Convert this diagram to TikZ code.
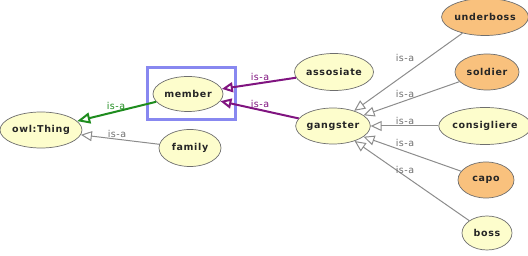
\documentclass[tikz,border=0pt]{standalone}
\usepackage{fontspec}
\usetikzlibrary{shapes.geometric,arrows.meta}
\newfontfamily\clsfont[LetterSpace=7]{DejaVu Sans}
\newfontfamily\lblfont[LetterSpace=5]{DejaVu Sans}
\definecolor{clsyellow}{RGB}{253,253,204}
\definecolor{clsorange}{RGB}{249,193,125}
\definecolor{clsborder}{RGB}{110,110,110}
\definecolor{isagray}{RGB}{140,140,140}
\definecolor{isagreen}{RGB}{30,140,30}
\definecolor{isapurple}{RGB}{128,20,128}
\definecolor{selblue}{RGB}{136,136,240}
\begin{document}
\begin{tikzpicture}[x=1pt,y=-1pt,
  cls/.style={ellipse, draw=clsborder, line width=0.7pt, inner sep=0pt,
    font=\clsfont\bfseries\fontsize{9.5}{11}\selectfont, text=black!85},
  plain/.style={cls, fill=clsyellow},
  defined/.style={cls, fill=clsorange},
  lbl/.style={font=\lblfont\fontsize{9.5}{11}\selectfont, inner sep=0pt},
  isa/.style={-{Triangle[open,length=11pt,width=10pt]}},
  isagrayline/.style={isa, draw=isagray, line width=1pt},
  isagreenline/.style={-{Triangle[open,length=13pt,width=11pt]}, draw=isagreen, line width=2pt},
  isapurpleline/.style={isa, draw=isapurple, line width=2pt},
  selbox/.style={draw=selblue, line width=3pt, inner sep=0pt}
]
\useasboundingbox (0,0) rectangle (528,256);

% classes
\node[plain, minimum width=82pt, minimum height=36pt] (thing) at (41,130) {owl:Thing};
\node[plain, minimum width=70pt, minimum height=35pt] (member) at (188,94) {member};
\node[plain, minimum width=62pt, minimum height=37pt] (family) at (190,148) {family};
\node[plain, minimum width=79pt, minimum height=37pt] (assosiate) at (334,72) {assosiate};
\node[plain, minimum width=74pt, minimum height=36pt] (gangster) at (333,126) {gangster};
\node[defined, minimum width=82pt, minimum height=37pt] (underboss) at (485,17) {underboss};
\node[defined, minimum width=64pt, minimum height=36pt] (soldier) at (487,72) {soldier};
\node[plain, minimum width=84pt, minimum height=37pt] (consigliere) at (485,126) {consigliere};
\node[defined, minimum width=56pt, minimum height=36pt] (capo) at (486,180) {capo};
\node[plain, minimum width=50pt, minimum height=34pt] (boss) at (487,233) {boss};

% selection frame
\node[selbox, minimum width=88pt, minimum height=52pt] (sel) at (191,94) {};

% subclass links
\draw[isagreenline] (member) -- (thing);
\draw[isagrayline] (family) -- (thing);
\draw[isapurpleline] (assosiate) -- (member);
\draw[isapurpleline] (gangster) -- (member);
\draw[isagrayline] (underboss) -- (gangster);
\draw[isagrayline] (soldier) -- (gangster);
\draw[isagrayline] (consigliere) -- (gangster);
\draw[isagrayline] (capo) -- (gangster);
\draw[isagrayline] (boss) -- (gangster);

% link labels
\node[lbl, text=isagreen] (l1) at (116,106) {is-a};
\node[lbl, text=isagray!80!black] (l2) at (117,134) {is-a};
\node[lbl, text=isapurple] (l3) at (260,77) {is-a};
\node[lbl, text=isapurple] (l4) at (260,104) {is-a};
\node[lbl, text=isagray!80!black] (l5) at (405,58) {is-a};
\node[lbl, text=isagray!80!black] (l6) at (405,94) {is-a};
\node[lbl, text=isagray!80!black] (l7) at (405,121) {is-a};
\node[lbl, text=isagray!80!black] (l8) at (405,143) {is-a};
\node[lbl, text=isagray!80!black] (l9) at (405,170) {is-a};
\end{tikzpicture}
\end{document}
